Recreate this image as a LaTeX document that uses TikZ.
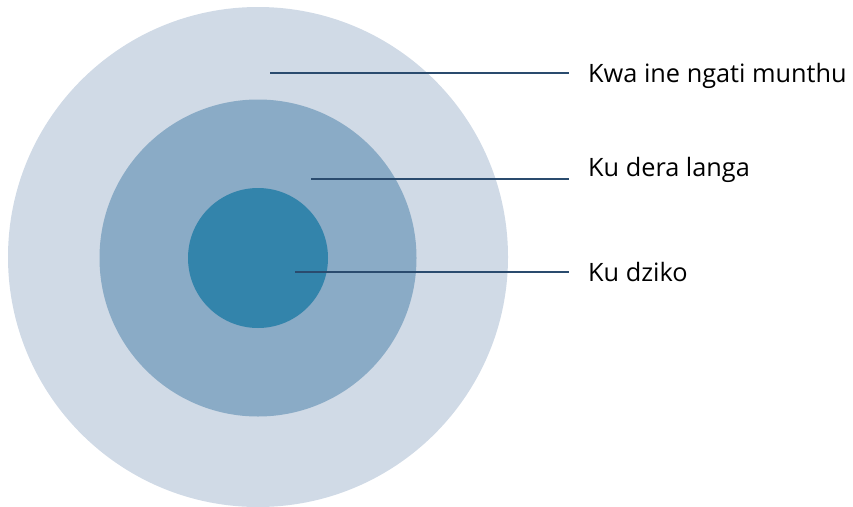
\documentclass[tikz,border=0pt]{standalone}
\usepackage{fontspec}
\setmainfont{Open Sans}
\definecolor{ringouter}{HTML}{D0DAE6}
\definecolor{ringmiddle}{HTML}{8AABC6}
\definecolor{ringinner}{HTML}{3384AB}
\definecolor{leader}{HTML}{2A4B6E}
\begin{document}
\begin{tikzpicture}[x=1pt,y=-1pt,
  leaderline/.style={draw=leader,line width=2pt},
  ringlabel/.style={anchor=base west,inner sep=0pt,font=\fontsize{25.3}{30}\selectfont,text=black}]
\useasboundingbox (0,0) rectangle (853,506);
\begin{scope}
  \clip (0,0) rectangle (853,506);
  \fill[ringouter] (258,257) circle[radius=250];
  \fill[ringmiddle] (258,258) circle[radius=158.5];
  \fill[ringinner] (258,258) circle[radius=70];
\end{scope}
% anchor points on the rings
\coordinate (p1) at (270,73);
\coordinate (p2) at (311,178.5);
\coordinate (p3) at (295,272);
% labels
\node[ringlabel] (l1) at (588,82) {Kwa ine ngati munthu};
\node[ringlabel] (l2) at (588,176.7) {Ku dera langa};
\node[ringlabel] (l3) at (588,281) {Ku dziko};
\coordinate (e1) at (569,73);
\coordinate (e2) at (569,178.5);
\coordinate (e3) at (569,272);
\draw[leaderline] (p1) -- (e1);
\draw[leaderline] (p2) -- (e2);
\draw[leaderline] (p3) -- (e3);
\end{tikzpicture}
\end{document}
